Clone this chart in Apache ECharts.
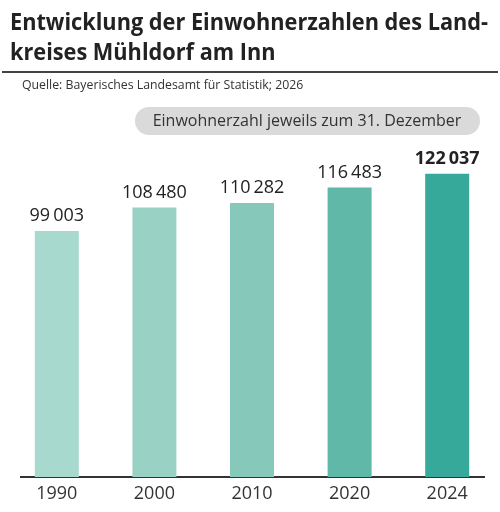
<!DOCTYPE html>
<html>
<head>
<meta charset="utf-8">
<script src="https://cdn.jsdelivr.net/npm/echarts@6/dist/echarts.min.js"></script>
<style>
  html, body { margin: 0; padding: 0; background: #fff; }
  #chart { width: 500px; height: 512px; }
</style>
</head>
<body>
<div id="chart"></div>
<script>
var years = ['1990', '2000', '2010', '2020', '2024'];
var einwohner = [99003, 108480, 110282, 116483, 122037];
var barColors = ['#a8d9cf', '#99d2c5', '#86c9ba', '#5fb8a8', '#37a99a'];

var titleLines = ['Entwicklung der Einwohnerzahlen des Land-', 'kreises Mühldorf am Inn'];
var quelle = 'Quelle: Bayerisches Landesamt für Statistik; 2026';
var hinweis = 'Einwohnerzahl jeweils zum 31. Dezember';

// Tausender mit schmalem Leerzeichen
function fmt(v) {
    return String(v).replace(/\B(?=(\d{3})+(?!\d))/g, '\u2009');
}

var myChart = echarts.init(document.getElementById('chart'));

var data = einwohner.map(function (v, i) {
    var item = { value: v, itemStyle: { color: barColors[i] } };
    if (i === einwohner.length - 1) {
        item.label = { fontWeight: 'bold' };
    }
    return item;
});

myChart.setOption({
    backgroundColor: '#fff',
    animation: false,
    grid: { left: 8, right: 4, top: 154, bottom: 35 },
    xAxis: {
        type: 'category',
        data: years,
        axisLine: { show: false },
        axisTick: { show: false },
        axisLabel: {
            color: '#333',
            fontSize: 18,
            fontFamily: 'Open Sans',
            margin: 8
        }
    },
    yAxis: {
        type: 'value',
        min: 0,
        max: 130000,
        show: false,
        splitLine: { show: false }
    },
    series: [{
        type: 'bar',
        barWidth: 44,
        data: data,
        label: {
            show: true,
            position: 'top',
            distance: 6,
            color: '#222',
            fontSize: 18,
            fontFamily: 'Open Sans',
            formatter: function (p) { return fmt(p.value); }
        }
    }],
    graphic: [
        {
            // Frutiger ist schmaler -> horizontal stauchen
            type: 'text', x: 10, y: 8, scaleX: 0.905,
            style: {
                text: titleLines.join('\n'),
                font: 'bold 24px "Open Sans"',
                lineHeight: 30,
                fill: '#222'
            }
        },
        {
            type: 'line',
            shape: { x1: 2, y1: 72, x2: 498, y2: 72 },
            style: { stroke: '#444', lineWidth: 2 }
        },
        {
            type: 'text', left: 22, top: 79,
            style: {
                text: quelle,
                font: '12.3px "Open Sans"',
                fill: '#333'
            }
        },
        {
            type: 'rect',
            shape: { x: 135, y: 107, width: 345, height: 28, r: 14 },
            style: { fill: '#dadada' }
        },
        {
            type: 'text',
            x: 307, y: 121,
            style: {
                text: hinweis,
                font: '16px "Open Sans"',
                fill: '#333',
                align: 'center',
                verticalAlign: 'middle'
            }
        },
        {
            type: 'line',
            shape: { x1: 20, y1: 477, x2: 485, y2: 477 },
            style: { stroke: '#333', lineWidth: 2 }
        }
    ]
});
</script>
</body>
</html>
